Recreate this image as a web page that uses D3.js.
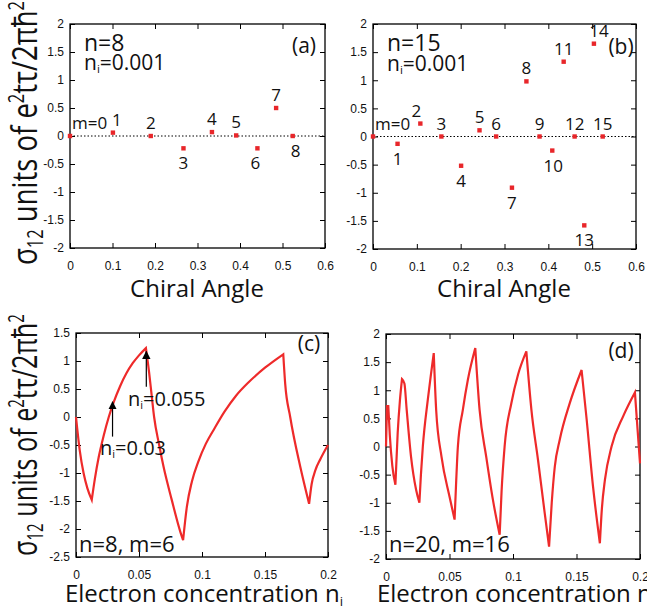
<!DOCTYPE html>
<html>
<head>
<meta charset="utf-8">
<script src="https://d3js.org/d3.v7.min.js"></script>
<style>
body { margin: 0; background: #fff; }
svg { font-family: "Open Sans", sans-serif; }
.tick text { font-size: 12px; fill: #111; }
.tick line { stroke: #000; }
.frame { fill: none; stroke: #000; stroke-width: 1.3px; }
.zero { stroke: #000; stroke-width: 1px; stroke-dasharray: 1.5, 2; }
.curve { fill: none; stroke: #ee2a2a; stroke-width: 2.2px; stroke-linejoin: miter; }
.pt { fill: #e8262a; }
.lbl { font-size: 17px; fill: #111; }
</style>
</head>
<body>
<script>
// (a) n=8, ni=0.001 : chiral angle of (8,m) and sigma12
var angleA = [0, 0.101, 0.190, 0.267, 0.334, 0.391, 0.441, 0.485, 0.524];
var sigmaA = [0, 0.06, 0, -0.22, 0.07, 0.01, -0.22, 0.50, 0];

// (b) n=15, ni=0.001
var angleB = [0, 0.056, 0.108, 0.156, 0.201, 0.243, 0.281, 0.317, 0.350, 0.380, 0.409, 0.435, 0.460, 0.482, 0.504, 0.524];
var sigmaB = [0, -0.13, 0.23, 0, -0.52, 0.11, 0, -0.91, 0.98, 0, -0.25, 1.33, 0, -1.58, 1.65, 0];

// (c) n=8, m=6 : sigma12 vs electron concentration
var concC = [0, 0.003, 0.006, 0.009, 0.0125, 0.015, 0.018, 0.022, 0.026, 0.030, 0.035, 0.040, 0.045, 0.050, 0.0555,
             0.058, 0.060, 0.062, 0.066, 0.0695, 0.076, 0.0828, 0.085,
             0.088, 0.092, 0.097, 0.103, 0.110, 0.118, 0.127, 0.137, 0.150, 0.1645,
             0.166, 0.170, 0.178, 0.185, 0.187, 0.190, 0.194, 0.200];
var sigmaC = [0, -0.6, -1.0, -1.27, -1.48, -1.1, -0.72, -0.33, 0.0, 0.27, 0.55, 0.78, 0.96, 1.1, 1.23,
              0.8, 0.4, 0.0, -0.5, -0.89, -1.48, -2.05, -2.2,
              -1.6, -1.15, -0.8, -0.48, -0.2, 0.1, 0.38, 0.62, 0.88, 1.12,
              0.6, 0.0, -0.89, -1.55, -1.2, -0.95, -0.75, -0.5];

// (d) n=20, m=16
var concD = [0, 0.0008, 0.0018, 0.003, 0.005, 0.0074, 0.0092, 0.011, 0.0126, 0.0145, 0.0163, 0.0197, 0.0237, 0.0263,
             0.0275, 0.029, 0.0329, 0.0355, 0.0376, 0.0395, 0.0437, 0.050, 0.054,
             0.0553, 0.0566, 0.0605, 0.0645, 0.0703, 0.0737, 0.0789, 0.0842, 0.0895,
             0.091, 0.0934, 0.0987, 0.104, 0.1105, 0.1145, 0.1197, 0.125, 0.1284,
             0.1305, 0.1329, 0.1368, 0.1447, 0.154, 0.158, 0.163, 0.1684,
             0.1700, 0.1724, 0.1776, 0.1868, 0.196, 0.200];
var sigmaD = [0, 0.72, 0.72, 0.2, -0.35, -0.68, 0.24, 0.83, 1.2, 1.12, 0.65, -0.18, -0.77, -1.0,
              -0.5, 0, 0.83, 1.3, 1.66, 0.65, -0.18, -0.89, -1.3,
              -0.6, 0, 0.65, 1.19, 1.75, 0.65, -0.18, -0.95, -1.57,
              -0.8, 0, 0.77, 1.28, 1.69, 0.65, -0.24, -1.19, -1.78,
              -1.0, -0.36, 0.12, 0.77, 1.36, 0.48, -0.71, -1.72,
              -1.1, -0.59, 0, 0.54, 0.96, -0.3];

// tick values
var ticksAngle = [0, 0.1, 0.2, 0.3, 0.4, 0.5, 0.6];
var ticksConc = [0, 0.05, 0.1, 0.15, 0.2];
var ticksSigmaAB = [-2, -1.5, -1, -0.5, 0, 0.5, 1, 1.5, 2];
var ticksSigmaC = [-2.5, -2, -1.5, -1, -0.5, 0, 0.5, 1, 1.5];
var ticksSigmaD = [-2, -1.5, -1, -0.5, 0, 0.5, 1, 1.5, 2];

var svg = d3.select('body').append('svg')
  .attr('width', 647)
  .attr('height', 616);

var fmt = function(d) { return String(d); };

function panel(box, xDomain, yDomain, xTicks, yTicks) {
  var x = d3.scaleLinear().domain(xDomain).range([box.l, box.r]);
  var y = d3.scaleLinear().domain(yDomain).range([box.b, box.t]);
  var g = svg.append('g');

  g.append('g').attr('transform', 'translate(0,' + box.b + ')')
    .call(d3.axisBottom(x).tickValues(xTicks).tickFormat(fmt).tickSizeInner(-5).tickSizeOuter(0).tickPadding(13));
  g.append('g').attr('transform', 'translate(0,' + box.t + ')')
    .call(d3.axisTop(x).tickValues(xTicks).tickFormat('').tickSizeInner(-5).tickSizeOuter(0));
  g.append('g').attr('transform', 'translate(' + box.l + ',0)')
    .call(d3.axisLeft(y).tickValues(yTicks).tickFormat(fmt).tickSizeInner(-5).tickSizeOuter(0).tickPadding(6));
  g.append('g').attr('transform', 'translate(' + box.r + ',0)')
    .call(d3.axisRight(y).tickValues(yTicks).tickFormat('').tickSizeInner(-5).tickSizeOuter(0));
  g.selectAll('.domain').remove();
  g.selectAll('.tick text').attr('font-family', null);

  g.append('rect').attr('class', 'frame')
    .attr('x', box.l).attr('y', box.t)
    .attr('width', box.r - box.l).attr('height', box.b - box.t);
  return { g: g, x: x, y: y };
}

// text "n" + small subscript i + rest
function niText(px, py, size, first, rest, anchor) {
  var t = svg.append('text')
    .attr('x', px).attr('y', py)
    .attr('text-anchor', anchor || 'start')
    .style('font-size', size + 'px')
    .style('fill', '#111');
  t.append('tspan').text(first);
  t.append('tspan').attr('dy', size * 0.15).style('font-size', (size * 0.55) + 'px').text('i');
  t.append('tspan').attr('dy', -size * 0.15).text(rest);
  return t;
}

function plainText(px, py, size, str, anchor) {
  return svg.append('text')
    .attr('x', px).attr('y', py)
    .attr('text-anchor', anchor || 'start')
    .style('font-size', size + 'px')
    .style('fill', '#111')
    .text(str);
}

function scatter(p, angles, sigmas, below, shift) {
  p.g.append('line').attr('class', 'zero')
    .attr('x1', p.x(0)).attr('x2', p.x(0.6))
    .attr('y1', p.y(0)).attr('y2', p.y(0));

  p.g.selectAll('rect.pt').data(angles).enter().append('rect')
    .attr('class', 'pt')
    .attr('x', function(d) { return p.x(d) - 2.2; })
    .attr('y', function(d, i) { return p.y(sigmas[i]) - 2.2; })
    .attr('width', 4.4).attr('height', 4.4);

  p.g.selectAll('text.lbl').data(angles).enter().append('text')
    .attr('class', 'lbl')
    .attr('text-anchor', function(d, i) { return i === 0 ? 'start' : 'middle'; })
    .attr('x', function(d, i) { return p.x(d) + (i === 0 ? 2 : (shift[i] || 0)); })
    .attr('y', function(d, i) {
      return below.indexOf(i) >= 0 ? p.y(sigmas[i]) + 21 : p.y(sigmas[i]) - 7;
    })
    .text(function(d, i) { return i === 0 ? 'm=0' : String(i); });
}

// draw the curve piece by piece between its peaks and dips so the cusps stay sharp
function curve(p, xs, ys) {
  var line = d3.line()
    .x(function(i) { return p.x(xs[i]); })
    .y(function(i) { return p.y(ys[i]); })
    .curve(d3.curveMonotoneX);
  var breaks = [0];
  for (var i = 1; i < xs.length - 1; i++) {
    if ((ys[i] - ys[i - 1]) * (ys[i + 1] - ys[i]) <= 0) breaks.push(i);
  }
  breaks.push(xs.length - 1);
  var d = '';
  for (var k = 0; k < breaks.length - 1; k++) {
    var idx = d3.range(breaks[k], breaks[k + 1] + 1);
    var seg = line(idx);
    d += k === 0 ? seg : 'L' + seg.slice(1);
  }
  p.g.append('path').attr('class', 'curve').attr('d', d);
}

function yTitle(cy, len) {
  var tr = 'translate(37,' + cy + ') rotate(-90)';
  var t = svg.append('text').attr('transform', tr)
    .attr('text-anchor', 'middle')
    .style('font-size', '35px').style('fill', '#111');
  t.append('tspan').text('σ');
  t.append('tspan').attr('dy', 6).style('font-size', '21px').text('12');
  t.append('tspan').attr('dy', -6).text(' units of e');
  t.append('tspan').attr('dy', -13).style('font-size', '21px').text('2');
  t.append('tspan').attr('dy', 13).text('tτ/2πħ');
  t.append('tspan').attr('dy', -13).style('font-size', '21px').text('2');
  var w = t.node().getComputedTextLength();
  t.attr('transform', tr + ' scale(' + (len / w) + ',1)');
}

// ---- panel (a)
var pa = panel({ l: 70, r: 325, t: 24, b: 248 }, [0, 0.6], [-2, 2], ticksAngle, ticksSigmaAB);
scatter(pa, angleA, sigmaA, [3, 6, 8], { 1: 4, 6: -2, 8: 3 });
plainText(84, 51, 23, 'n=8');
niText(84, 70, 21, 'n', '=0.001');
plainText(304, 53, 21, '(a)', 'middle');

// ---- panel (b)
var pb = panel({ l: 373, r: 636, t: 24, b: 249 }, [0, 0.6], [-2, 2], ticksAngle, ticksSigmaAB);
scatter(pb, angleB, sigmaB, [1, 4, 7, 10, 13], { 2: -4, 14: 5, 10: 1 });
plainText(387, 51, 23, 'n=15');
niText(387, 71, 21, 'n', '=0.001');
plainText(621, 54, 21, '(b)', 'middle');

// ---- panel (c)
var pc = panel({ l: 76, r: 328, t: 333, b: 557 }, [0, 0.2], [-2.5, 1.5], ticksConc, ticksSigmaC);
curve(pc, concC, sigmaC);
plainText(79, 552, 22, 'n=8, m=6');
plainText(309, 351, 21, '(c)', 'middle');

// arrows pointing at ni=0.03 and ni=0.055
svg.append('defs').append('marker')
  .attr('id', 'head').attr('viewBox', '0 0 10 10')
  .attr('refX', 9).attr('refY', 5)
  .attr('markerWidth', 7).attr('markerHeight', 9)
  .attr('orient', 'auto')
  .append('path').attr('d', 'M0,0 L10,5 L0,10 Z').attr('fill', '#000');

[[0.029, -0.35, 0.27], [0.0558, 0.54, 1.17]].forEach(function(a) {
  pc.g.append('line')
    .attr('x1', pc.x(a[0])).attr('x2', pc.x(a[0]))
    .attr('y1', pc.y(a[1])).attr('y2', pc.y(a[2]))
    .attr('stroke', '#000').attr('stroke-width', 1.2)
    .attr('marker-end', 'url(#head)');
});
niText(100, 455, 20, 'n', '=0.03');
niText(128, 406, 20, 'n', '=0.055');

// ---- panel (d)
var pd = panel({ l: 386, r: 640, t: 334, b: 559 }, [0, 0.2], [-2, 2], ticksConc, ticksSigmaD);
curve(pd, concD, sigmaD);
plainText(389, 552, 22, 'n=20, m=16');
plainText(621, 358, 21, '(d)', 'middle');

// ---- axis titles
plainText(197, 297, 24, 'Chiral Angle', 'middle');
plainText(504, 297, 24, 'Chiral Angle', 'middle');
niText(204, 602, 24, 'Electron concentration n', '', 'middle');
niText(516, 602, 24, 'Electron concentration n', '', 'middle');

yTitle(133, 264);
yTitle(435, 242);
</script>
</body>
</html>
